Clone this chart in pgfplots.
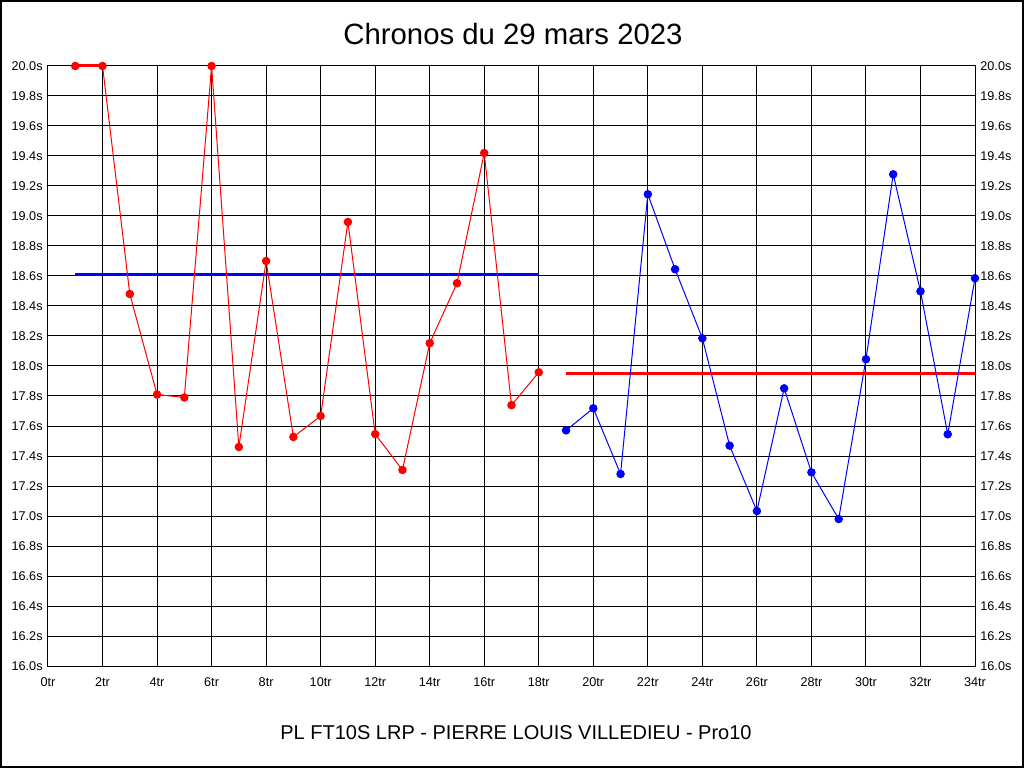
\documentclass[border=0pt]{standalone}
\usepackage{pgfplots}
\pgfplotsset{compat=1.18}
\usepackage{fontspec}
\setmainfont{Liberation Sans}
\begin{document}
\begin{tikzpicture}[x=0.75pt,y=0.75pt]
\useasboundingbox (0,0) rectangle (1024,768);
\fill[white] (0,0) rectangle (1024,768);
\draw[line width=1.5pt] (1,1) rectangle (1023,767);
\pgfplotsset{
  common/.style={
    at={(36pt,76.5pt)}, anchor=south west,
    scale only axis, width=695.25pt, height=450pt,
    xmin=0, xmax=34, ymin=16, ymax=20,
    xtick={0,2,...,34},
    ytick={16.0,16.2,16.4,16.6,16.8,17.0,17.2,17.4,17.6,17.8,18.0,18.2,18.4,18.6,18.8,19.0,19.2,19.4,19.6,19.8,20.0},
    yticklabels={16.0s,16.2s,16.4s,16.6s,16.8s,17.0s,17.2s,17.4s,17.6s,17.8s,18.0s,18.2s,18.4s,18.6s,18.8s,19.0s,19.2s,19.4s,19.6s,19.8s,20.0s},
    major tick length=0pt,
    tick label style={font=\fontsize{9.5}{10}\selectfont},
    axis line style={line width=0.75pt, black},
    clip=false,
  }
}
\begin{axis}[common,
    xticklabels={0tr,2tr,4tr,6tr,8tr,10tr,12tr,14tr,16tr,18tr,20tr,22tr,24tr,26tr,28tr,30tr,32tr,34tr},
    grid=major,
    major grid style={line width=0.75pt, black},
    xticklabel style={yshift=-5pt},
    yticklabel style={xshift=-0.5pt},
  ]
\addplot[blue, line width=2.25pt, no marks] coordinates {(1,18.607) (18,18.607)};
\addplot[red, line width=2.25pt, no marks] coordinates {(19,17.947) (34,17.947)};
\addplot[red, line width=0.75pt, mark=*, mark size=2.8pt, mark options={fill=red, draw=red}] coordinates {
(1,20.0) (2,20.0) (3,18.48) (4,17.81) (5,17.79) (6,20.0) (7,17.46) (8,18.70) (9,17.527)
(10,17.667) (11,18.96) (12,17.546) (13,17.307) (14,18.152) (15,18.552) (16,19.42) (17,17.739) (18,17.958)
};
\addplot[red, line width=2.25pt, no marks] coordinates {(1,20.0) (2,20.0)};
\addplot[blue, line width=0.75pt, mark=*, mark size=2.8pt, mark options={fill=blue, draw=blue}] coordinates {
(19,17.571) (20,17.718) (21,17.28) (22,19.145) (23,18.645) (24,18.185) (25,17.469) (26,17.033)
(27,17.851) (28,17.291) (29,16.98) (30,18.045) (31,19.278) (32,18.498) (33,17.545) (34,18.585)
};
\end{axis}
\begin{axis}[common,
    axis y line*=right, axis x line=none,
    yticklabel style={xshift=0.5pt},
  ]
\end{axis}
\node[font=\fontsize{22}{24}\selectfont] at (513,734) {Chronos du 29 mars 2023};
\node[font=\fontsize{15}{17}\selectfont] at (516,35) {PL FT10S LRP - PIERRE LOUIS VILLEDIEU - Pro10};
\end{tikzpicture}
\end{document}
